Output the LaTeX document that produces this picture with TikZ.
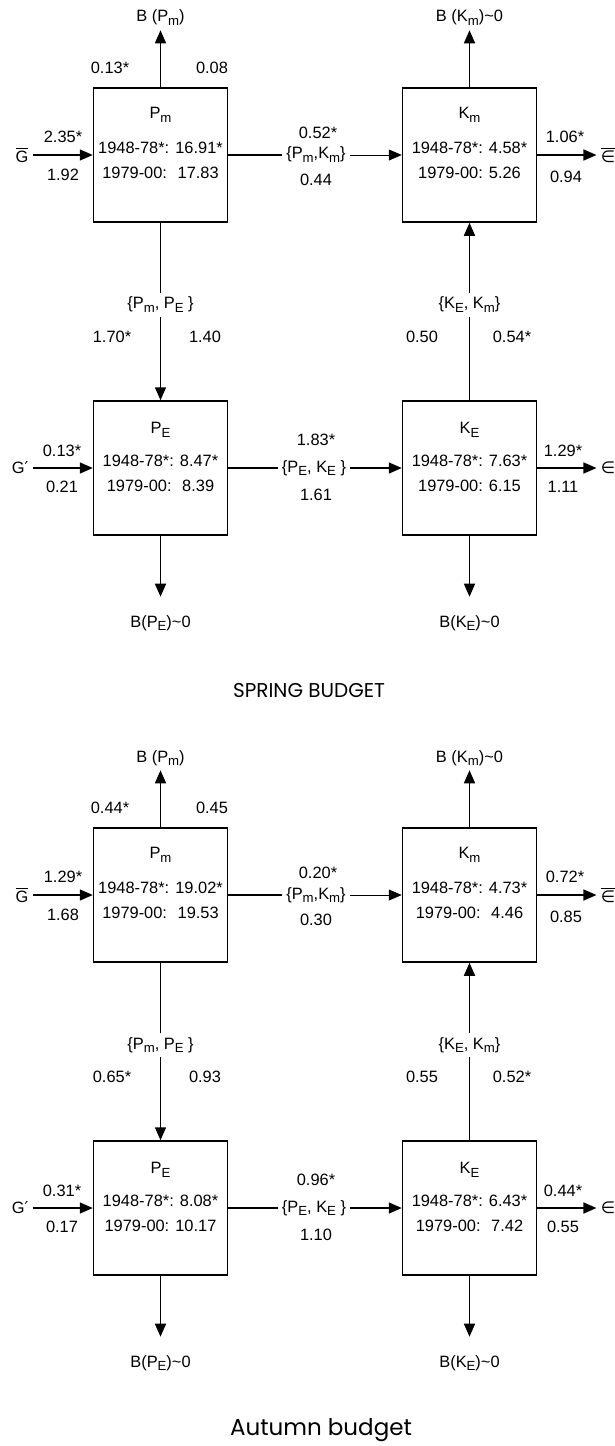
\documentclass[tikz,border=0pt]{standalone}
\usepackage{fontspec}
\setmainfont{Liberation Sans}
\newfontfamily\symfont{DejaVu Sans}
\newfontfamily\titlefont{Poppins}
\usetikzlibrary{arrows.meta,positioning}
\newcommand{\sbs}[1]{\raisebox{-0.45ex}{\fontsize{6.6pt}{7pt}\selectfont #1}}
\newcommand{\figfont}{\fontsize{8.2pt}{12.5pt}\selectfont}
\newcommand{\Gbar}{$\overline{\hbox{G}}$}
\newcommand{\Ebar}{$\overline{\hbox{\symfont ∈}}$}

\begin{document}
\begin{tikzpicture}[x=0.5pt, y=-0.5pt, font=\figfont, node distance=154.5pt,
    box/.style={draw, line width=0.75pt, minimum width=67pt, minimum height=67pt, inner sep=0pt},
    txt/.style={inner sep=2pt, align=center},
    arr/.style={-{Triangle[length=6.5pt,width=5.5pt]}, line width=0.75pt},
    lnk/.style={line width=0.75pt}]

  \useasboundingbox (0,0) rectangle (615,1446);

  % Spring budget
  \node[box] (pm) at (160.5,155) {};
  \node[box, right of=pm] (km) {};
  \node[box, below of=pm, node distance=156.5pt] (pe) {};
  \node[box, right of=pe] (ke) {};

  % Box contents
  \node[txt] (pmn) at (160.5,115) {P\sbs{m}};
  \node[txt] (pmv) at (160.5,160) {1948-78*: 16.91*\\1979-00:~ 17.83};
  \node[txt] (kmn) at (469.5,115) {K\sbs{m}};
  \node[txt] (kmv) at (469.5,160) {1948-78*: 4.58*\\1979-00: 5.26};
  \node[txt] (pen) at (160.5,430) {P\sbs{E}};
  \node[txt] (pev) at (160.5,473) {1948-78*: 8.47*\\1979-00:~ 8.39};
  \node[txt] (ken) at (469.5,430) {K\sbs{E}};
  \node[txt] (kev) at (469.5,473) {1948-78*: 7.63*\\1979-00: 6.15};

  % Ends
  \node[txt] (bpm) at (160.5,18) {B (P\sbs{m})};
  \node[txt] (bkm) at (469.5,18) {B (K\sbs{m})\textasciitilde0};
  \node[txt] (bpe) at (160.5,623) {B(P\sbs{E})\textasciitilde0};
  \node[txt] (bke) at (469.5,623) {B(K\sbs{E})\textasciitilde0};
  \node[txt] (gb) at (22,155) {\Gbar};
  \node[txt] (gp) at (20,468) {G{\symfont ′}};
  \node[txt] (eb) at (608,155) {\Ebar};
  \node[txt] (ein) at (608,468) {{\symfont ∈}};

  % Exchange labels
  \node[txt] (pk) at (316,155) {\{P\sbs{m},K\sbs{m}\}};
  \node[txt] (pp) at (160.5,305) {\{P\sbs{m}, P\sbs{E} \}};
  \node[txt] (kk) at (469.5,305) {\{K\sbs{E}, K\sbs{m}\}};
  \node[txt] (pek) at (314,468) {\{P\sbs{E}, K\sbs{E} \}};

  % Flows
  \draw[arr] (pm) -- (bpm);
  \draw[arr] (km) -- (bkm);
  \draw[arr, shorten >=7pt] (pe) -- (bpe);
  \draw[arr, shorten >=7pt] (ke) -- (bke);
  \draw[arr] (gb) -- (pm);
  \draw[arr] (gp) -- (pe);
  \draw[arr] (km) -- (eb);
  \draw[arr] (ke) -- (ein);
  \draw[lnk] (pm) -- (pk);
  \draw[arr, line width=0.4pt] (pk) -- (km);
  \draw[lnk] (pm) -- (pp);
  \draw[arr] (pp) -- (pe);
  \draw[lnk] (ke) -- (kk);
  \draw[arr] (kk) -- (km);
  \draw[lnk] (pe) -- (pek);
  \draw[arr] (pek) -- (ke);

  % Values
  \node[txt] (v1) at (110,68) {0.13*};
  \node[txt] (v2) at (212,68) {0.08};
  \node[txt] (v3) at (63,137) {2.35*};
  \node[txt] (v4) at (63,175) {1.92};
  \node[txt] (v5) at (318,133) {0.52*};
  \node[txt] (v6) at (316,180) {0.44};
  \node[txt] (v7) at (565,137) {1.06*};
  \node[txt] (v8) at (566,177) {0.94};
  \node[txt] (v9) at (112,337) {1.70*};
  \node[txt] (v10) at (205,337) {1.40};
  \node[txt] (v11) at (422,337) {0.50};
  \node[txt] (v12) at (512,337) {0.54*};
  \node[txt] (v13) at (62,451) {0.13*};
  \node[txt] (v14) at (62,487) {0.21};
  \node[txt] (v15) at (316,440) {1.83*};
  \node[txt] (v16) at (316,495) {1.61};
  \node[txt] (v17) at (563,451) {1.29*};
  \node[txt] (v18) at (563,487) {1.11};

  \node[font=\titlefont\fontsize{10pt}{12pt}\selectfont] (spring) at (309,690) {SPRING BUDGET};

  % Autumn budget
  \begin{scope}[yshift=-370pt]
    \node[box] (pm2) at (160.5,155) {};
    \node[box, right of=pm2] (km2) {};
    \node[box, below of=pm2, node distance=156.5pt] (pe2) {};
    \node[box, right of=pe2] (ke2) {};

    % Box contents
    \node[txt] (pmn2) at (160.5,115) {P\sbs{m}};
    \node[txt] (pmv2) at (160.5,160) {1948-78*: 19.02*\\1979-00:~ 19.53};
    \node[txt] (kmn2) at (469.5,115) {K\sbs{m}};
    \node[txt] (kmv2) at (469.5,160) {1948-78*: 4.73*\\1979-00:~ 4.46};
    \node[txt] (pen2) at (160.5,430) {P\sbs{E}};
    \node[txt] (pev2) at (160.5,473) {1948-78*: 8.08*\\1979-00: 10.17};
    \node[txt] (ken2) at (469.5,430) {K\sbs{E}};
    \node[txt] (kev2) at (469.5,473) {1948-78*: 6.43*\\1979-00:~ 7.42};

    % Ends
    \node[txt] (bpm2) at (160.5,18) {B (P\sbs{m})};
    \node[txt] (bkm2) at (469.5,18) {B (K\sbs{m})\textasciitilde0};
    \node[txt] (bpe2) at (160.5,623) {B(P\sbs{E})\textasciitilde0};
    \node[txt] (bke2) at (469.5,623) {B(K\sbs{E})\textasciitilde0};
    \node[txt] (gb2) at (22,155) {\Gbar};
    \node[txt] (gp2) at (20,468) {G{\symfont ′}};
    \node[txt] (eb2) at (608,155) {\Ebar};
    \node[txt] (ein2) at (608,468) {{\symfont ∈}};

    % Exchange labels
    \node[txt] (pk2) at (316,155) {\{P\sbs{m},K\sbs{m}\}};
    \node[txt] (pp2) at (160.5,305) {\{P\sbs{m}, P\sbs{E} \}};
    \node[txt] (kk2) at (469.5,305) {\{K\sbs{E}, K\sbs{m}\}};
    \node[txt] (pek2) at (314,468) {\{P\sbs{E}, K\sbs{E} \}};

    % Flows
    \draw[arr] (pm2) -- (bpm2);
    \draw[arr] (km2) -- (bkm2);
    \draw[arr, shorten >=7pt] (pe2) -- (bpe2);
    \draw[arr, shorten >=7pt] (ke2) -- (bke2);
    \draw[arr] (gb2) -- (pm2);
    \draw[arr] (gp2) -- (pe2);
    \draw[arr] (km2) -- (eb2);
    \draw[arr] (ke2) -- (ein2);
    \draw[lnk] (pm2) -- (pk2);
    \draw[arr, line width=0.4pt] (pk2) -- (km2);
    \draw[lnk] (pm2) -- (pp2);
    \draw[arr] (pp2) -- (pe2);
    \draw[lnk] (ke2) -- (kk2);
    \draw[arr] (kk2) -- (km2);
    \draw[lnk] (pe2) -- (pek2);
    \draw[arr] (pek2) -- (ke2);

    % Values
    \node[txt] (w1) at (110,68) {0.44*};
    \node[txt] (w2) at (212,68) {0.45};
    \node[txt] (w3) at (63,137) {1.29*};
    \node[txt] (w4) at (63,175) {1.68};
    \node[txt] (w5) at (318,133) {0.20*};
    \node[txt] (w6) at (316,180) {0.30};
    \node[txt] (w7) at (565,137) {0.72*};
    \node[txt] (w8) at (566,177) {0.85};
    \node[txt] (w9) at (112,337) {0.65*};
    \node[txt] (w10) at (205,337) {0.93};
    \node[txt] (w11) at (422,337) {0.55};
    \node[txt] (w12) at (512,337) {0.52*};
    \node[txt] (w13) at (62,451) {0.31*};
    \node[txt] (w14) at (62,487) {0.17};
    \node[txt] (w15) at (316,440) {0.96*};
    \node[txt] (w16) at (316,495) {1.10};
    \node[txt] (w17) at (563,451) {0.44*};
    \node[txt] (w18) at (563,487) {0.55};

    \node[font=\titlefont\fontsize{11.5pt}{14pt}\selectfont] (autumn) at (321,690) {Autumn budget};
  \end{scope}
\end{tikzpicture}
\end{document}
